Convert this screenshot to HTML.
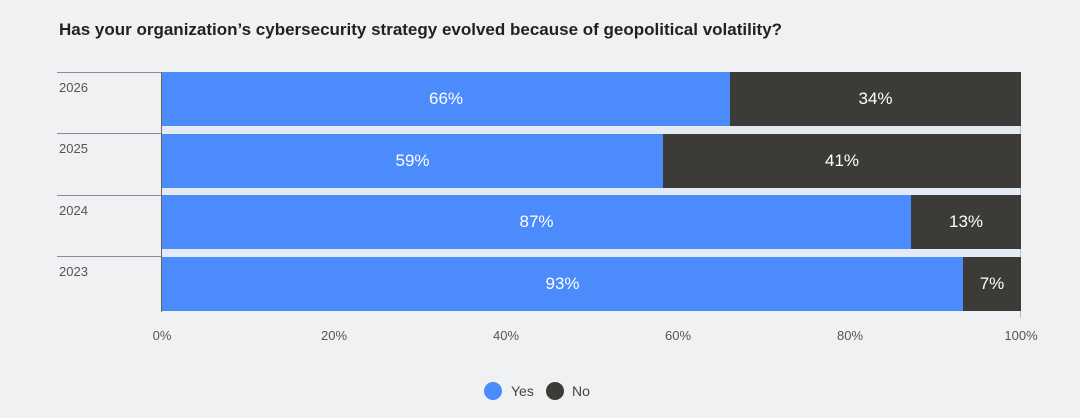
<!DOCTYPE html>
<html><head><style>
body{margin:0;background:#eff1f3;font-family:"Liberation Sans",sans-serif;}
#c{position:relative;width:1080px;height:418px;overflow:hidden;}
.t{position:absolute;left:59px;top:20px;font-size:17px;font-weight:bold;color:#222;}
.b{position:absolute;height:54px;color:#fff;font-size:17px;display:flex;align-items:center;justify-content:center;}
.y{background:#4c8bfb}.n{background:#3c3b38}
.yl{position:absolute;left:59px;font-size:13px;color:#555;}
.sep{position:absolute;left:57px;width:105px;height:1px;background:#8c8c99;}
.tk{position:absolute;top:328px;font-size:13px;color:#555;width:60px;text-align:center;}
.dot{position:absolute;width:18px;height:18px;border-radius:50%;top:382px;}
.lg{position:absolute;top:383px;font-size:14px;color:#444;}
</style></head><body><div id="c">
<div class="t">Has your organization’s cybersecurity strategy evolved because of geopolitical volatility?</div>
<div style="position:absolute;left:162px;top:126px;width:859px;height:8px;background:#e4ebf5"></div>
<div style="position:absolute;left:162px;top:188px;width:859px;height:7px;background:#e4ebf5"></div>
<div style="position:absolute;left:162px;top:249px;width:859px;height:8px;background:#e4ebf5"></div>
<div style="position:absolute;left:1020px;top:72px;width:1px;height:246px;background:#bbb"></div>
<div class="sep" style="top:72px"></div><div class="sep" style="top:133px"></div>
<div class="sep" style="top:195px"></div><div class="sep" style="top:256px"></div>
<div class="yl" style="top:80px">2026</div><div class="yl" style="top:141px">2025</div>
<div class="yl" style="top:203px">2024</div><div class="yl" style="top:264px">2023</div>
<div class="b y" style="left:162px;top:72px;width:568px">66%</div><div class="b n" style="left:730px;top:72px;width:291px">34%</div>
<div class="b y" style="left:162px;top:134px;width:501px">59%</div><div class="b n" style="left:663px;top:134px;width:358px">41%</div>
<div class="b y" style="left:162px;top:195px;width:749px">87%</div><div class="b n" style="left:911px;top:195px;width:110px">13%</div>
<div class="b y" style="left:162px;top:257px;width:801px">93%</div><div class="b n" style="left:963px;top:257px;width:58px">7%</div>
<div style="position:absolute;left:161px;top:72px;width:1px;height:240px;background:#666"></div>
<div class="tk" style="left:132px">0%</div><div class="tk" style="left:304px">20%</div>
<div class="tk" style="left:476px">40%</div><div class="tk" style="left:648px">60%</div>
<div class="tk" style="left:820px">80%</div><div class="tk" style="left:991px">100%</div>
<div class="dot y" style="left:484px"></div><div class="lg" style="left:511px">Yes</div>
<div class="dot n" style="left:546px"></div><div class="lg" style="left:572px">No</div>
</div></body></html>
